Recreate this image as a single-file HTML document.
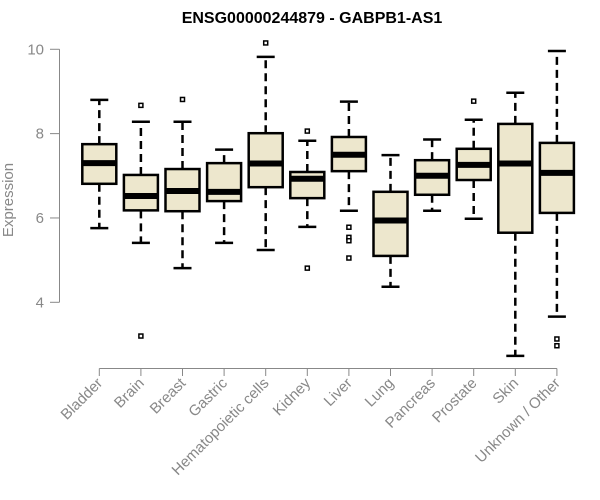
<!DOCTYPE html>
<html><head><meta charset="utf-8"><style>
body{margin:0;background:#fff}
svg{display:block;font-family:"Liberation Sans",Arial,sans-serif}
</style></head><body>
<svg id="chart" width="600" height="500">
<text x="312" y="23" text-anchor="middle" font-weight="bold" font-size="16" fill="#000">ENSG00000244879 - GABPB1-AS1</text>
<text transform="translate(13,200) rotate(-90)" text-anchor="middle" font-size="15" fill="#888">Expression</text>
<g id="yaxis"></g>
<g id="xaxis"></g>
<g id="boxes"></g>
</svg>
<script>
const categories=["Bladder","Brain","Breast","Gastric","Hematopoietic cells","Kidney","Liver","Lung","Pancreas","Prostate","Skin","Unknown / Other"];
const whiskerLow=[5.76,5.41,4.81,5.41,5.24,5.79,6.17,4.37,6.17,5.98,2.73,3.66];
const q1=[6.81,6.18,6.16,6.40,6.73,6.47,7.11,5.10,6.55,6.90,5.65,6.12];
const median=[7.30,6.52,6.64,6.62,7.29,6.93,7.50,5.94,7.00,7.26,7.29,7.07];
const q3=[7.75,7.02,7.16,7.30,8.01,7.09,7.92,6.62,7.37,7.64,8.23,7.78];
const whiskerHigh=[8.80,8.28,8.28,7.62,9.82,7.83,8.76,7.49,7.86,8.33,8.97,9.96];
const outliers=[[],[8.67,3.20],[8.81],[],[10.15],[8.06,4.81],[5.78,5.54,5.46,5.05],[],[],[8.77],[],[3.13,2.97]];
const yTicks=[4,6,8,10];
const NS="http://www.w3.org/2000/svg";
const y=v=>302.3-(v-4)*42.17;
const x=i=>99.3+i*41.6;
function mk(p,t,a){const e=document.createElementNS(NS,t);for(const k in a)e.setAttribute(k,a[k]);p.appendChild(e);return e;}
const ya=document.getElementById('yaxis'),xa=document.getElementById('xaxis'),bx=document.getElementById('boxes');
let l=mk(ya,'line',{x1:59.5,x2:59.5,y1:y(10),y2:y(4),stroke:'#888'});


yTicks.forEach(v=>{
 let t=mk(ya,'line',{x1:50,x2:59.5,y1:y(v),y2:y(v),stroke:'#888'});
 
 
 let tx=mk(ya,'text',{x:44,y:y(v)+5,'text-anchor':'end','font-size':15,fill:'#888'});
 tx.textContent=v;
 
 
});
let xl=mk(xa,'line',{x1:x(0),x2:x(categories.length-1),y1:368.5,y2:368.5,stroke:'#888'});


categories.forEach((c,i)=>{
 let t=mk(xa,'line',{x1:x(i),x2:x(i),y1:368.5,y2:376,stroke:'#888'});
 
 
 let tx=mk(xa,'text',{transform:`translate(${x(i)+4},${384}) rotate(-45)`,'text-anchor':'end','font-size':15,fill:'#888'});
 tx.textContent=c;
 
 
 const g=mk(bx,'g',{});
 
 
 const cx=x(i),hw=17;
 mk(g,'line',{x1:cx,x2:cx,y1:y(q3[i]),y2:y(whiskerHigh[i]),stroke:'#000','stroke-width':2.5,'stroke-dasharray':'8,5'});
 mk(g,'line',{x1:cx,x2:cx,y1:y(q1[i]),y2:y(whiskerLow[i]),stroke:'#000','stroke-width':2.5,'stroke-dasharray':'8,5'});
 mk(g,'line',{x1:cx-9,x2:cx+9,y1:y(whiskerHigh[i]),y2:y(whiskerHigh[i]),stroke:'#000','stroke-width':2.5});
 mk(g,'line',{x1:cx-9,x2:cx+9,y1:y(whiskerLow[i]),y2:y(whiskerLow[i]),stroke:'#000','stroke-width':2.5});
 mk(g,'rect',{x:cx-hw,y:y(q3[i]),width:hw*2,height:y(q1[i])-y(q3[i]),fill:'#ede7cd',stroke:'#000','stroke-width':2.5});
 mk(g,'line',{x1:cx-hw,x2:cx+hw,y1:y(median[i]),y2:y(median[i]),stroke:'#000','stroke-width':6});
 outliers[i].forEach(o=>{
  let c2=mk(g,'rect',{x:cx-2,y:y(o)-2,width:4,height:4,fill:'#fff',stroke:'#000','stroke-width':1.5});
  
  
 });
});
</script>
</body></html>
